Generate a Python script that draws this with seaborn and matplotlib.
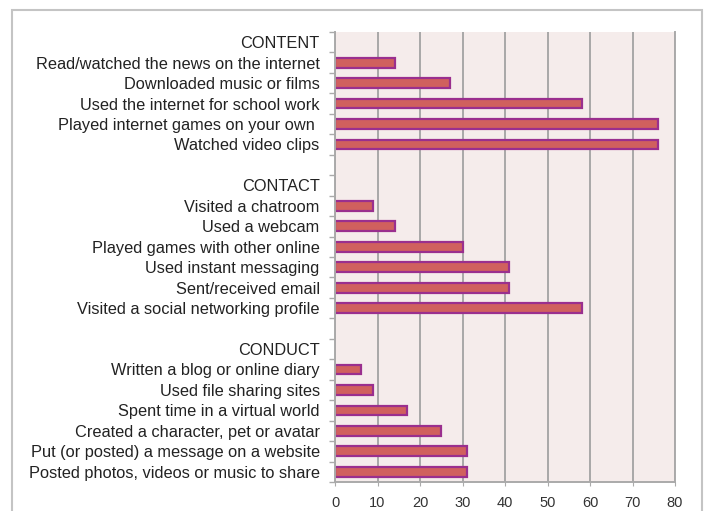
import matplotlib
matplotlib.use("Agg")
import matplotlib.pyplot as plt
import matplotlib.patches as patches
import seaborn as sns
import pandas as pd
import numpy as np

# rows top to bottom, headers and blank rows have no bar
row_labels = ['CONTENT',
              'Read/watched the news on the internet',
              'Downloaded music or films',
              'Used the internet for school work',
              'Played internet games on your own ',
              'Watched video clips',
              ' ',
              'CONTACT',
              'Visited a chatroom',
              'Used a webcam',
              'Played games with other online',
              'Used instant messaging',
              'Sent/received email',
              'Visited a social networking profile',
              '  ',
              'CONDUCT',
              'Written a blog or online diary',
              'Used file sharing sites',
              'Spent time in a virtual world',
              'Created a character, pet or avatar',
              'Put (or posted) a message on a website',
              'Posted photos, videos or music to share']

content_items = row_labels[1:6]
content_vals = [14, 27, 58, 76, 76]
contact_items = row_labels[8:14]
contact_vals = [9, 14, 30, 41, 41, 58]
conduct_items = row_labels[16:22]
conduct_vals = [6, 9, 17, 25, 31, 31]

x_ticks = [0, 10, 20, 30, 40, 50, 60, 70, 80]

df = pd.DataFrame({
    'activity': content_items + contact_items + conduct_items,
    'percent': content_vals + contact_vals + conduct_vals,
})

sns.set_style('white')
plt.rcParams['font.family'] = ['Liberation Sans', 'DejaVu Sans']

fig = plt.figure(figsize=(7.07, 5.11), dpi=100)
ax = fig.add_axes([335 / 707, 1 - 482 / 511, 340 / 707, 450 / 511])
ax.set_facecolor('#f5eceb')

sns.barplot(data=df, y='activity', x='percent', order=row_labels, orient='h',
            color='#d0605e', edgecolor='#9a2f8e', linewidth=1.6, width=0.48,
            saturation=1, ax=ax)

ax.set_xlim(0, 80)
ax.set_ylim(len(row_labels) - 0.5, -0.5)
ax.set_xticks(x_ticks)
ax.set_xticklabels([str(t) for t in x_ticks])
ax.xaxis.grid(True, color='#a8a8a8', linewidth=1.4)
ax.set_axisbelow(True)
ax.set_xlabel('')
ax.set_ylabel('')

# small ticks between rows on the left spine
ax.set_yticks(np.arange(-0.5, len(row_labels), 1), minor=True)
ax.tick_params(axis='y', which='minor', length=4, color='#aaaaaa', width=1, left=True)
ax.tick_params(axis='y', which='major', length=0, pad=11, labelsize=11.8, labelcolor='#222222')
ax.tick_params(axis='x', length=3, color='#aaaaaa', pad=7, labelsize=10.5, labelcolor='#333333', bottom=True)

for side in ['left', 'bottom', 'right']:
    ax.spines[side].set_color('#aaaaaa')
    ax.spines[side].set_linewidth(1.4)
ax.spines['top'].set_visible(False)

# outer frame of the figure box
frame = patches.Rectangle((12 / 707, -0.05), 690 / 707, 1 - 10 / 511 + 0.05,
                          transform=fig.transFigure, fill=False,
                          edgecolor='#c4c4c4', linewidth=1.5, clip_on=False)
fig.patches.append(frame)

fig.savefig('out.png', dpi=100)
